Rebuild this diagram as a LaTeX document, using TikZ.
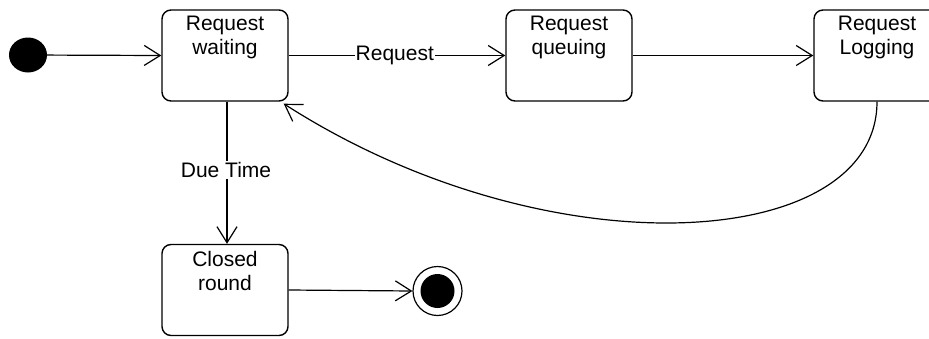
\documentclass[tikz,border=0pt]{standalone}
\usepackage{fontspec}
\setmainfont{Liberation Sans}
\usetikzlibrary{arrows.meta,shapes.geometric}

\tikzset{
  statebox/.style={draw, line width=1.4pt, rounded corners=9pt,
    minimum width=126pt, minimum height=91pt, inner sep=0pt},
  boxtext/.style={anchor=north, align=center, inner sep=0pt,
    font=\fontsize{21}{24}\selectfont},
  flow/.style={line width=1.2pt, -{Straight Barb[length=16pt,width=20pt,line width=1.2pt]}},
  edgelabel/.style={fill=white, inner sep=1pt, font=\fontsize{21}{24}\selectfont},
}

\begin{document}
\begin{tikzpicture}[x=1pt,y=-1pt]
  \useasboundingbox (0,0) rectangle (929,338);
  \clip (0,0) rectangle (929,338);

  % initial and final pseudo-states
  \node[ellipse, fill=black, minimum width=38pt, minimum height=35pt, inner sep=0pt] (init) at (28,55) {};
  \node[circle, draw, line width=1.2pt, minimum size=49pt, inner sep=0pt] (final) at (437.5,291) {};
  \node[circle, fill=black, minimum size=34pt, inner sep=0pt] (finalDot) at (final.center) {};

  % states (y axis points down, so shifts downwards are negative)
  \node[statebox] (wait) at (225,55.5) {};
  \node[boxtext] (waitT) at ([yshift=-7pt]wait.north) {Request\\waiting};

  \node[statebox] (queue) at (569,55.5) {};
  \node[boxtext] (queueT) at ([yshift=-7pt]queue.north) {Request\\queuing};

  % this state runs past the right border
  \node[statebox] (log) at (877,55.5) {};
  \node[boxtext] (logT) at ([yshift=-7pt]log.north) {Request\\Logging};

  \node[statebox] (closed) at (225,290) {};
  \node[boxtext] (closedT) at ([yshift=-7pt]closed.north) {Closed\\round};

  % transitions
  \draw[flow] (init) -- (wait.west);
  \draw[flow] (wait.east) -- node[edgelabel, pos=0.49] (reqLbl) {Request} (queue.west);
  \draw[flow] (queue.east) -- (log.west);
  \draw[flow] (log.south) .. controls ([yshift=-150pt]log.south) and ([xshift=260pt,yshift=-172pt]wait.south east) .. ([xshift=-5pt,yshift=-2pt]wait.south east);
  \draw[flow] ([xshift=2pt]wait.south) -- node[edgelabel, pos=0.48, xshift=-1pt] (dueLbl) {Due Time} ([xshift=2pt]closed.north);
  \draw[flow] (closed.east) -- (final.west);
\end{tikzpicture}
\end{document}
